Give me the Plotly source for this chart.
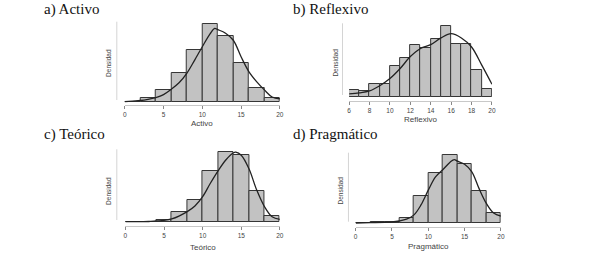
import plotly.graph_objects as go

W, H = 590, 254

# ---------------- data ----------------
# a) Activo  (bins of width 2, 0..20)
activo_edges = [0, 2, 4, 6, 8, 10, 12, 14, 16, 18]
activo_dens = [0.000, 0.007, 0.019, 0.048, 0.088, 0.131, 0.111, 0.066, 0.023, 0.006]
activo_kx = [0, 1, 2, 3, 4, 5, 6, 7, 8, 9, 10, 11, 11.6, 12, 13, 14, 15, 16, 17, 18, 19, 20]
activo_ky = [0.000, 0.001, 0.002, 0.004, 0.007, 0.012, 0.021, 0.032, 0.048, 0.070, 0.093,
             0.115, 0.124, 0.122, 0.116, 0.104, 0.076, 0.051, 0.034, 0.020, 0.008, 0.005]

# b) Reflexivo (bins of width 1, 6..20)
reflex_edges = [6, 7, 8, 9, 10, 11, 12, 13, 14, 15, 16, 17, 18, 19]
reflex_dens = [0.015, 0.012, 0.026, 0.026, 0.065, 0.080, 0.109, 0.101, 0.121, 0.148,
               0.111, 0.111, 0.056, 0.017]
reflex_kx = [6, 7, 8, 9, 10, 11, 12, 13, 14, 15, 16, 17, 18, 19, 20]
reflex_ky = [0.006, 0.008, 0.012, 0.023, 0.038, 0.059, 0.084, 0.101, 0.109, 0.123, 0.132,
             0.123, 0.104, 0.066, 0.026]

# c) Teórico (bins of width 2, 0..20)
teor_edges = [0, 2, 4, 6, 8, 10, 12, 14, 16, 18]
teor_dens = [0.000, 0.000, 0.003, 0.019, 0.042, 0.099, 0.136, 0.130, 0.060, 0.011]
teor_kx = [0, 1, 2, 3, 4, 5, 6, 7, 8, 9, 10, 11, 12, 13, 14, 14.3, 15, 16, 17, 18, 19, 20]
teor_ky = [0.0006, 0.0006, 0.0008, 0.001, 0.002, 0.003, 0.006, 0.012, 0.020, 0.031, 0.049,
           0.075, 0.099, 0.120, 0.134, 0.135, 0.129, 0.103, 0.062, 0.030, 0.010, 0.005]

# d) Pragmático (bins of width 2, 0..20)
prag_edges = [0, 2, 4, 6, 8, 10, 12, 14, 16, 18]
prag_dens = [0.0007, 0.002, 0.002, 0.010, 0.053, 0.098, 0.134, 0.116, 0.064, 0.020]
prag_kx = [0, 2, 4, 5, 6, 7, 8, 9, 10, 11, 12, 13, 13.6, 14, 15, 16, 17, 18, 19, 20]
prag_ky = [0.0006, 0.0013, 0.002, 0.0026, 0.0045, 0.008, 0.016, 0.036, 0.065, 0.091, 0.105,
           0.120, 0.125, 0.122, 0.116, 0.101, 0.068, 0.039, 0.020, 0.014]

panels = [
    dict(title="a) Activo", xlabel="Activo", edges=activo_edges, dens=activo_dens, bw=2,
         kx=activo_kx, ky=activo_ky, xr=[0, 20], ticks=[0, 5, 10, 15, 20]),
    dict(title="b) Reflexivo", xlabel="Reflexivo", edges=reflex_edges, dens=reflex_dens, bw=1,
         kx=reflex_kx, ky=reflex_ky, xr=[6, 20], ticks=[6, 8, 10, 12, 14, 16, 18, 20]),
    dict(title="c) Teórico", xlabel="Teórico", edges=teor_edges, dens=teor_dens, bw=2,
         kx=teor_kx, ky=teor_ky, xr=[0, 20], ticks=[0, 5, 10, 15, 20]),
    dict(title="d) Pragmático", xlabel="Pragmático", edges=prag_edges, dens=prag_dens, bw=2,
         kx=prag_kx, ky=prag_ky, xr=[0, 20], ticks=[0, 5, 10, 15, 20]),
]

# ---------------- layout geometry (window pixels) ----------------
geom = [
    dict(x0=124, x1=280.7, base=101.7, axis=105, top=21, ppu=590.8, yline=(116, 21.7, 100),
         tx=40, ty=9, dx=107, dy=63, lx=202, ly=123),
    dict(x0=350.7, x1=495, base=96.7, axis=101, top=23, ppu=477.7, yline=(344, 23.3, 95),
         tx=292, ty=9, dx=336, dy=63, lx=423, ly=119),
    dict(x0=124.7, x1=280.7, base=222, axis=226, top=148, ppu=517, yline=(116, 149.3, 220),
         tx=40, ty=134, dx=107, dy=191, lx=203, ly=247),
    dict(x0=357.3, x1=504, base=223.3, axis=227, top=152, ppu=509.7, yline=(350, 152.7, 221.7),
         tx=292, ty=134, dx=341, dy=191, lx=431, ly=246),
]

def px(x):
    return x / W

def py(y):
    return 1 - y / H

fig = go.Figure()
annotations = []
shapes = []
serif = "Liberation Serif, Times New Roman, serif"
sans = "Liberation Sans, Arial, sans-serif"

for i, (p, g) in enumerate(zip(panels, geom)):
    n = "" if i == 0 else str(i + 1)
    xa, ya = "x" + n, "y" + n
    fig.add_trace(go.Bar(
        x=p["edges"], y=p["dens"], width=p["bw"], offset=0,
        marker=dict(color="#c2c2c2", line=dict(color="#363636", width=1)),
        xaxis=xa, yaxis=ya, showlegend=False, hoverinfo="skip"))
    fig.add_trace(go.Scatter(
        x=p["kx"], y=p["ky"], mode="lines", line=dict(color="#222222", width=1.3, shape="spline"),
        xaxis=xa, yaxis=ya, showlegend=False, hoverinfo="skip"))

    ylo = -(g["axis"] - g["base"]) / g["ppu"]
    yhi = (g["base"] - g["top"]) / g["ppu"]
    fig.layout["xaxis" + n] = dict(
        domain=[px(g["x0"]), px(g["x1"])], range=p["xr"], anchor=ya,
        showgrid=False, zeroline=False, showline=True, linecolor="#c8c8c8", linewidth=1,
        ticks="outside", ticklen=3, tickcolor="#888888", tickwidth=1,
        tickvals=p["ticks"], tickfont=dict(family=sans, size=6.5, color="#444444"),
        fixedrange=True)
    fig.layout["yaxis" + n] = dict(
        domain=[py(g["axis"]), py(g["top"])], range=[ylo, yhi], anchor=xa,
        showgrid=False, zeroline=False, showline=False, showticklabels=False, ticks="",
        fixedrange=True)

    xl, y0, y1 = g["yline"]
    shapes.append(dict(type="line", xref="paper", yref="paper", x0=px(xl), x1=px(xl),
                       y0=py(y1), y1=py(y0), line=dict(color="#d4d4d4", width=1)))
    annotations.append(dict(text=p["title"], xref="paper", yref="paper", x=px(g["tx"]),
                            y=py(g["ty"]), xanchor="left", yanchor="middle", showarrow=False,
                            font=dict(family=serif, size=15, color="#111111")))
    annotations.append(dict(text="Densidad", xref="paper", yref="paper", x=px(g["dx"]),
                            y=py(g["dy"]), xanchor="center", yanchor="middle", showarrow=False,
                            textangle=-90, font=dict(family=sans, size=6.5, color="#444444")))
    annotations.append(dict(text=p["xlabel"], xref="paper", yref="paper", x=px(g["lx"]),
                            y=py(g["ly"]), xanchor="center", yanchor="middle", showarrow=False,
                            font=dict(family=sans, size=8, color="#444444")))

fig.update_layout(
    width=W, height=H, margin=dict(l=0, r=0, t=0, b=0),
    paper_bgcolor="white", plot_bgcolor="white",
    bargap=0, annotations=annotations, shapes=shapes,
)

# remove the browser's default page margin so the figure fills the window exactly
fig.write_html("out.html", config={"displayModeBar": False},
               post_script="document.body.style.margin='0';document.body.style.padding='0';")
